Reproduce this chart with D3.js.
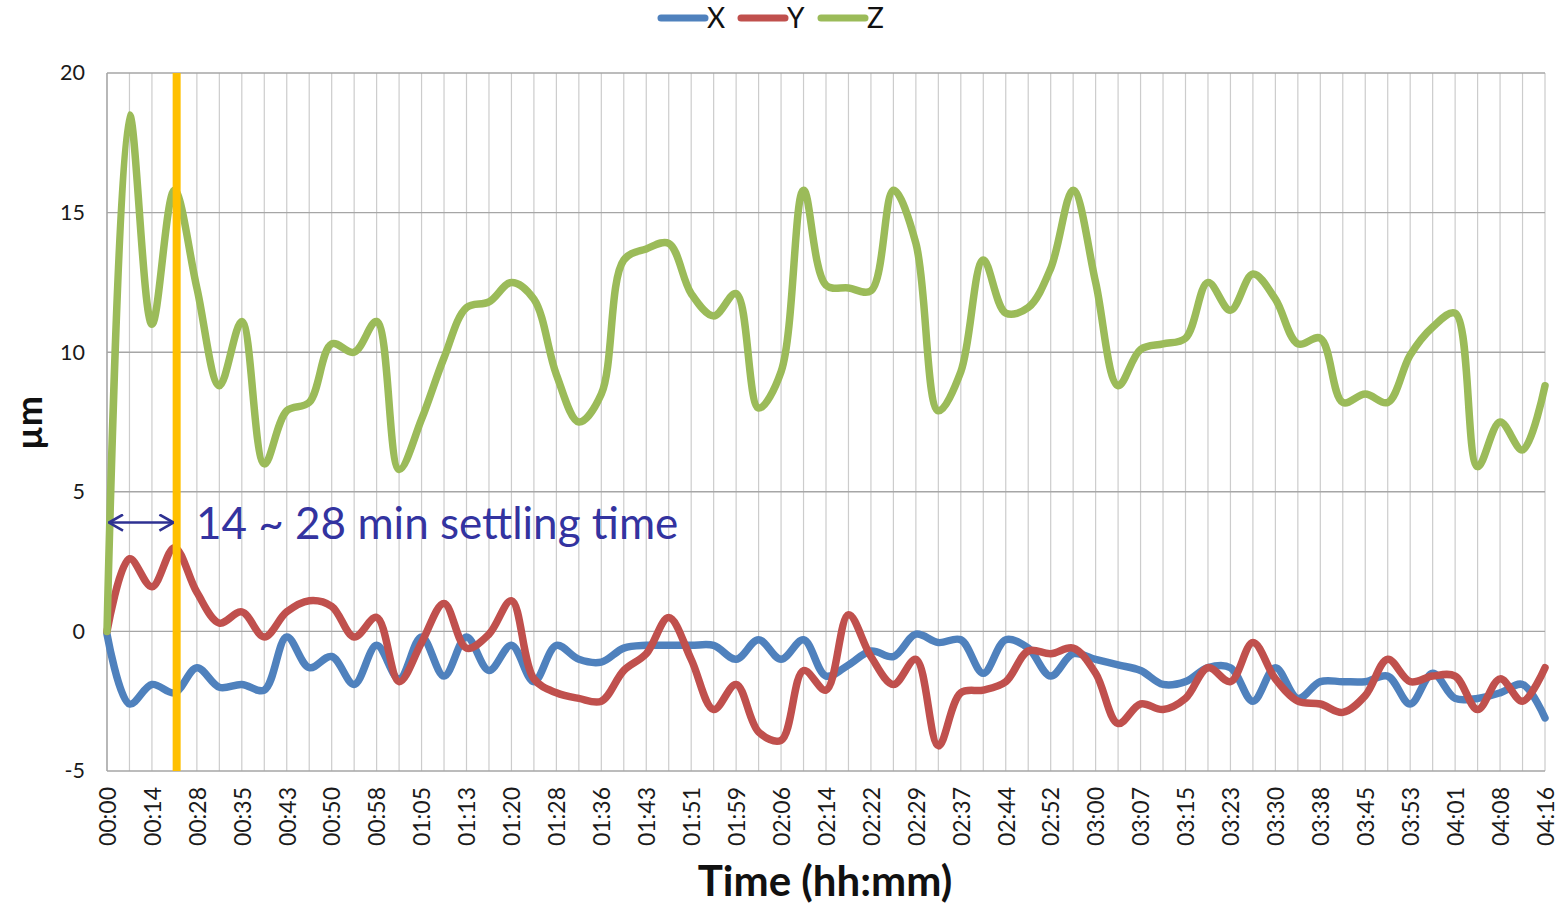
<!DOCTYPE html>
<html>
<head>
<meta charset="utf-8">
<script src="https://cdn.jsdelivr.net/npm/d3@7"></script>
<style>
  html, body { margin: 0; padding: 0; background: #ffffff; }
  svg { display: block; font-family: Lato, "Open Sans", sans-serif; }
</style>
</head>
<body>
<svg id="chart" width="1560" height="904"></svg>
<script>
// ---- data ----
const tickLabels = ["00:00","00:14","00:28","00:35","00:43","00:50","00:58","01:05","01:13","01:20","01:28","01:36","01:43","01:51","01:59","02:06","02:14","02:22","02:29","02:37","02:44","02:52","03:00","03:07","03:15","03:23","03:30","03:38","03:45","03:53","04:01","04:08","04:16"];
const seriesNames = ["X", "Y", "Z"];
const xValues = [-0.1,-2.6,-1.9,-2.2,-1.3,-2.0,-1.9,-2.1,-0.2,-1.3,
                 -0.9,-1.9,-0.5,-1.7,-0.2,-1.6,-0.2,-1.4,-0.5,-1.8,
                 -0.5,-1.0,-1.1,-0.6,-0.5,-0.5,-0.5,-0.5,-1.0,-0.3,
                 -1.0,-0.3,-1.6,-1.2,-0.7,-0.9,-0.1,-0.4,-0.3,-1.5,
                 -0.3,-0.6,-1.6,-0.8,-1.0,-1.2,-1.4,-1.9,-1.8,-1.3,
                 -1.3,-2.5,-1.3,-2.4,-1.8,-1.8,-1.8,-1.6,-2.6,-1.5,
                 -2.4,-2.4,-2.2,-1.9,-3.1];
const yValues = [0,2.6,1.6,3.0,1.4,0.3,0.7,-0.2,0.7,1.1,
                 0.9,-0.2,0.5,-1.8,-0.4,1.0,-0.6,-0.1,1.1,-1.7,
                 -2.2,-2.4,-2.5,-1.4,-0.8,0.5,-1.0,-2.8,-1.9,-3.6,
                 -3.9,-1.4,-2.1,0.6,-0.9,-1.9,-1.0,-4.1,-2.2,-2.1,
                 -1.8,-0.7,-0.8,-0.6,-1.5,-3.3,-2.6,-2.8,-2.4,-1.3,
                 -1.8,-0.4,-1.7,-2.5,-2.6,-2.9,-2.3,-1.0,-1.8,-1.6,
                 -1.6,-2.8,-1.7,-2.5,-1.3];
const zValues = [0,18.5,11.0,15.8,12.3,8.8,11.1,6.0,7.9,8.2,
                 10.3,10.0,11.1,5.8,7.6,9.8,11.6,11.8,12.5,11.9,
                 9.2,7.5,8.5,13.3,13.7,13.9,12.1,11.3,12.1,8.0,
                 9.3,15.8,12.4,12.3,12.2,15.8,13.9,7.9,9.3,13.3,
                 11.4,11.6,13.0,15.8,12.5,8.8,10.1,10.3,10.5,12.5,
                 11.5,12.8,11.9,10.3,10.5,8.2,8.5,8.2,9.9,10.9,
                 11.4,5.9,7.5,6.5,8.8];
const yTicks = [-5, 0, 5, 10, 15, 20];
const settlingIndex = 3.1;       // vertical marker (category position)
const arrowFrom = 0, arrowTo = 3; // arrow span (category positions)
const arrowValue = 3.9;           // arrow height (µm)
const annotationText = "14 ~ 28 min settling time";

// ---- layout ----
const FONT = "Lato, 'Open Sans', sans-serif";
const colors = { X: "#4F81BD", Y: "#C0504D", Z: "#9BBB59" };
const svg = d3.select("#chart");
const L = 107, R = 1545, T = 73, B = 771;
const nPts = zValues.length;
const x = d3.scaleLinear().domain([0, nPts - 1]).range([L, R]);
const y = d3.scaleLinear().domain([-5, 20]).range([B, T]);

// vertical gridlines (every category)
svg.append("g").selectAll("line").data(d3.range(nPts)).join("line")
  .attr("x1", d => x(d)).attr("x2", d => x(d))
  .attr("y1", T).attr("y2", B)
  .attr("stroke", "#cccccc").attr("stroke-width", 1.2);

// horizontal gridlines
svg.append("g").selectAll("line").data(yTicks).join("line")
  .attr("x1", L).attr("x2", R)
  .attr("y1", d => y(d)).attr("y2", d => y(d))
  .attr("stroke", "#a6a6a6").attr("stroke-width", 1.4);

// left axis line
svg.append("line").attr("x1", L).attr("x2", L).attr("y1", T).attr("y2", B)
  .attr("stroke", "#a6a6a6").attr("stroke-width", 1.4);

// y axis labels
const yAxis = d3.axisLeft(y).tickValues(yTicks).tickSize(0).tickPadding(22).tickFormat(d => String(d));
const gy = svg.append("g").attr("transform", `translate(${L},0)`).call(yAxis);
gy.select(".domain").remove();
gy.selectAll("text").attr("font-size", 21.5).attr("fill", "#1a1a1a").attr("font-family", FONT);

// x axis labels (every second category)
const xAxis = d3.axisBottom(x).tickValues(d3.range(0, nPts, 2)).tickSize(0)
  .tickFormat((d) => tickLabels[d / 2]);
const gx = svg.append("g").attr("transform", `translate(0,${B})`).call(xAxis);
gx.select(".domain").remove();
gx.selectAll("text")
  .attr("font-size", 23).attr("fill", "#1a1a1a").attr("font-family", FONT)
  .attr("transform", "rotate(-90)")
  .attr("text-anchor", "end")
  .attr("dy", "0.36em")
  .attr("x", -16).attr("y", 0);

// series lines
const line = d3.line().x((d, i) => x(i)).y(d => y(d)).curve(d3.curveCatmullRom.alpha(0.5));
const seriesData = [["X", xValues], ["Y", yValues], ["Z", zValues]];
svg.append("g").selectAll("path").data(seriesData).join("path")
  .attr("d", d => line(d[1]))
  .attr("fill", "none")
  .attr("stroke", d => colors[d[0]])
  .attr("stroke-width", 7.5)
  .attr("stroke-linejoin", "round")
  .attr("stroke-linecap", "round");

// settling marker
svg.append("line")
  .attr("x1", x(settlingIndex)).attr("x2", x(settlingIndex))
  .attr("y1", T).attr("y2", B)
  .attr("stroke", "#FFC000").attr("stroke-width", 8);

// arrow
const ac = "#2E3192";
const defs = svg.append("defs");
defs.append("marker").attr("id", "ah").attr("viewBox", "0 0 16 18")
  .attr("refX", 15).attr("refY", 9).attr("markerWidth", 16).attr("markerHeight", 18)
  .attr("markerUnits", "userSpaceOnUse").attr("orient", "auto-start-reverse")
  .append("path").attr("d", "M1,1 L15,9 L1,17").attr("fill", "none")
  .attr("stroke", ac).attr("stroke-width", 2.6);
svg.append("line")
  .attr("x1", x(arrowFrom) + 2).attr("x2", x(arrowTo) - 1)
  .attr("y1", y(arrowValue)).attr("y2", y(arrowValue))
  .attr("stroke", ac).attr("stroke-width", 2.6)
  .attr("marker-start", "url(#ah)").attr("marker-end", "url(#ah)");

svg.append("text")
  .attr("x", 196).attr("y", y(arrowValue) + 16)
  .attr("font-size", 44).attr("fill", "#3333A0").attr("font-family", FONT)
  .text(annotationText);

// axis titles
svg.append("text").attr("x", 825).attr("y", 896).attr("text-anchor", "middle")
  .attr("font-size", 42).attr("font-weight", "bold").attr("fill", "#111").attr("font-family", FONT)
  .text("Time (hh:mm)");
svg.append("text").attr("transform", "translate(42,423) rotate(-90)").attr("text-anchor", "middle")
  .attr("font-size", 36).attr("font-weight", "bold").attr("fill", "#111").attr("font-family", FONT)
  .text("µm");

// legend
const legendX = [658, 738, 818];
const lg = svg.append("g").selectAll("g").data(seriesNames).join("g")
  .attr("transform", (d, i) => `translate(${legendX[i]},18)`);
lg.append("line").attr("x1", 3).attr("x2", 47).attr("y1", 0).attr("y2", 0)
  .attr("stroke", d => colors[d]).attr("stroke-width", 7).attr("stroke-linecap", "round");
lg.append("text").attr("x", 49).attr("y", 10).attr("font-size", 28).attr("fill", "#111").attr("font-family", FONT)
  .text(d => d);
</script>
</body>
</html>
